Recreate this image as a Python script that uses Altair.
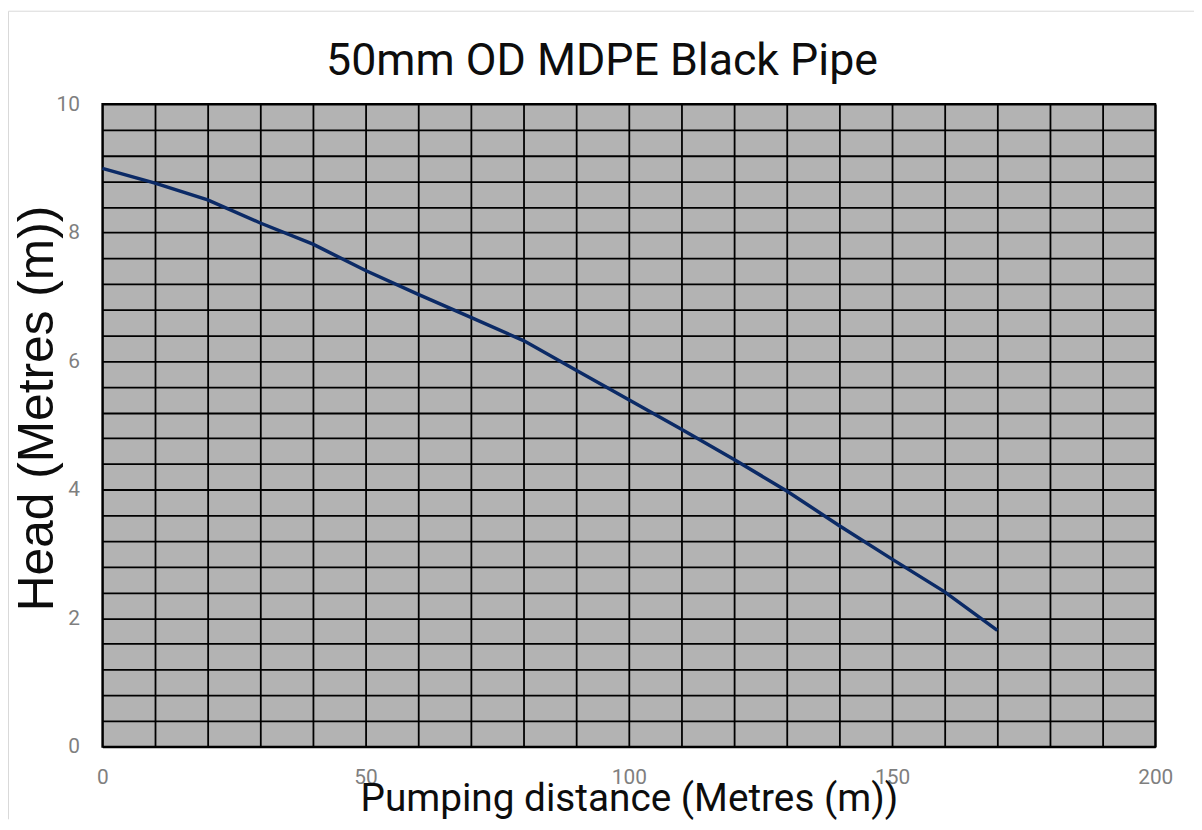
import altair as alt
import pandas as pd

# Data
distance = [0, 10, 20, 30, 40, 50, 60, 70, 80, 90, 100, 110, 120, 130, 140, 150, 160, 170]
head = [9.0, 8.77, 8.51, 8.15, 7.82, 7.41, 7.04, 6.68, 6.32, 5.86, 5.40, 4.94, 4.47, 3.98, 3.44, 2.92, 2.41, 1.81]

x_grid = list(range(0, 201, 10))
y_grid = [round(i * 0.4, 1) for i in range(26)]

df = pd.DataFrame({"distance": distance, "head": head})

W, H = 1060, 647
PAD = {"left": 95, "top": 94, "right": 39, "bottom": 73}
FONT = "Roboto"

line = alt.Chart(df).mark_line(color="#0b2a66", strokeWidth=3.5).encode(
    x=alt.X(
        "distance:Q",
        scale=alt.Scale(domain=[0, 200], nice=False, zero=False),
        axis=alt.Axis(
            values=x_grid,
            labelExpr="datum.value % 50 == 0 ? format(datum.value, 'd') : ''",
            title="Pumping distance (Metres (m))",
            titleFont=FONT,
            titleFontSize=39,
            titleFontWeight="normal",
            titleColor="#0d0d0d",
            titleBaseline="alphabetic",
            titleX=530,
            titleY=64,
            labelFont=FONT,
            labelFontSize=21,
            labelColor="#7f7f7f",
            labelPadding=20,
            labelFlush=False,
            labelOverlap=False,
            ticks=False,
            domain=False,
            grid=True,
            gridColor="#000000",
            gridWidth=1.8,
            gridOpacity=1,
        ),
    ),
    y=alt.Y(
        "head:Q",
        scale=alt.Scale(domain=[0, 10], nice=False, zero=False),
        axis=alt.Axis(
            values=y_grid,
            labelExpr="datum.value % 2 == 0 ? format(datum.value, 'd') : ''",
            title="Head (Metres (m))",
            titleFont="Liberation Sans",
            titleFontSize=50,
            titleFontWeight="normal",
            titleColor="#0d0d0d",
            titleBaseline="alphabetic",
            titleAngle=-90,
            titleX=-50,
            titleY=306,
            labelFont=FONT,
            labelFontSize=21,
            labelColor="#7f7f7f",
            labelPadding=23,
            labelOverlap=False,
            labelFlush=False,
            ticks=False,
            domain=False,
            grid=True,
            gridColor="#000000",
            gridWidth=1.8,
            gridOpacity=1,
        ),
    ),
)

frame_df = pd.DataFrame({"k": [0]})
frame_top = alt.Chart(frame_df).mark_rule(color="#d9d9d9", strokeWidth=1).encode(
    x=alt.value(-94.5), x2=alt.value(W + 39), y=alt.value(-93.5)
)
frame_left = alt.Chart(frame_df).mark_rule(color="#d9d9d9", strokeWidth=1).encode(
    x=alt.value(-94.5), y=alt.value(-93.5), y2=alt.value(H + 73)
)

chart = (
    alt.layer(frame_top, frame_left, line)
    .properties(
        width=W,
        height=H,
        title=alt.TitleParams(
            "50mm OD MDPE Black Pipe",
            font=FONT,
            fontSize=45,
            fontWeight="normal",
            color="#0d0d0d",
            anchor="middle",
            baseline="alphabetic",
            offset=-110,
            dx=-27,
        ),
        autosize=alt.AutoSizeParams(type="none"),
        padding=PAD,
        background="white",
    )
    .configure_view(fill="#b3b3b3", stroke="#000000", strokeWidth=2)
)

chart.save("out.html", embed_options={"renderer": "svg", "actions": False})
